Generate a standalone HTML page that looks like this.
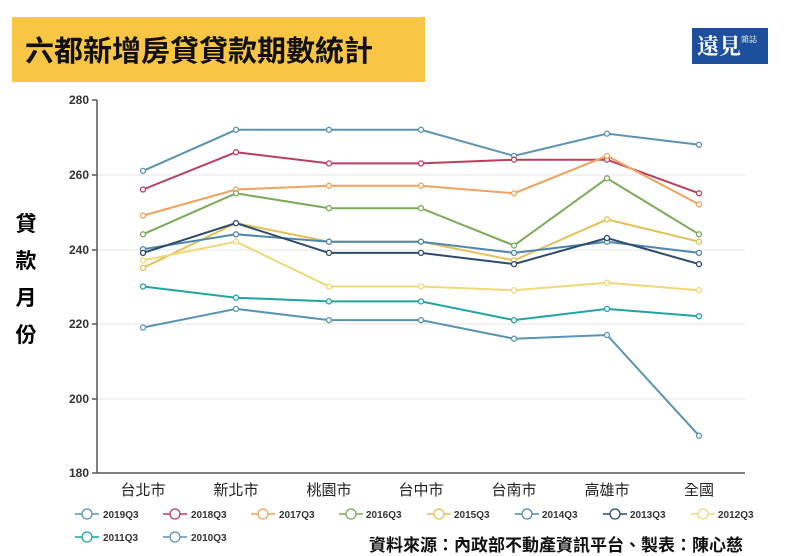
<!DOCTYPE html>
<html><head><meta charset="utf-8"><style>
body{margin:0;width:792px;height:555px;background:#fff;overflow:hidden;position:relative;font-family:"Liberation Sans","Noto Sans CJK TC",sans-serif}
.title{position:absolute;left:12px;top:17px;width:413px;height:65px;background:#f8c545;font-size:29px;font-weight:bold;line-height:65px;text-indent:13px;color:#111;font-family:"Noto Sans CJK TC",sans-serif}
.logo{position:absolute;left:692px;top:28px;width:76px;height:36px;background:#1d4f9c;color:#fff;font-family:"Noto Serif CJK SC",serif;font-size:22px;line-height:36px;text-indent:5px;font-weight:bold}
.logo span{font-size:8px;font-weight:normal;vertical-align:top;line-height:24px}
.yl{position:absolute;left:14px;top:205px;width:24px;font-size:21px;font-weight:bold;line-height:37px;font-family:"Noto Sans CJK TC",sans-serif;text-align:center}
.src{position:absolute;left:369px;top:531px;font-size:17px;font-weight:bold;font-family:"Noto Sans CJK TC",sans-serif;color:#111}
</style></head><body>
<div class="title">六都新增房貸貸款期數統計</div>
<div class="logo">遠見<span>雜誌</span></div>
<div class="yl">貸<br>款<br>月<br>份</div>
<svg id="s" width="792" height="555" style="position:absolute;left:0;top:0">
<g stroke="#e4e4e4" stroke-width="1"><line x1="97" y1="175" x2="745" y2="175"/><line x1="97" y1="250" x2="745" y2="250"/><line x1="97" y1="324" x2="745" y2="324"/><line x1="97" y1="399" x2="745" y2="399"/></g>
<g stroke="#555" stroke-width="1.5"><line x1="97" y1="100" x2="97" y2="473"/><line x1="97" y1="473" x2="745" y2="473"/>
<line x1="92" y1="100" x2="97" y2="100"/><line x1="92" y1="175" x2="97" y2="175"/><line x1="92" y1="250" x2="97" y2="250"/><line x1="92" y1="324" x2="97" y2="324"/><line x1="92" y1="399" x2="97" y2="399"/><line x1="92" y1="473" x2="97" y2="473"/></g>
<g font-size="12" font-weight="bold" fill="#333" text-anchor="end"><text x="89" y="104">280</text><text x="89" y="179">260</text><text x="89" y="254">240</text><text x="89" y="328">220</text><text x="89" y="403">200</text><text x="89" y="477">180</text></g>
<g font-size="15" fill="#222" text-anchor="middle" font-family="Noto Sans CJK TC,sans-serif"><text x="143" y="495">台北市</text><text x="236" y="495">新北市</text><text x="329" y="495">桃園市</text><text x="421" y="495">台中市</text><text x="514" y="495">台南市</text><text x="607" y="495">高雄市</text><text x="699" y="495">全國</text></g>
<g font-size="10" font-weight="bold" fill="#333"><text x="103" y="518">2019Q3</text><text x="191" y="518">2018Q3</text><text x="279" y="518">2017Q3</text><text x="366" y="518">2016Q3</text><text x="454" y="518">2015Q3</text><text x="542" y="518">2014Q3</text><text x="630" y="518">2013Q3</text><text x="718" y="518">2012Q3</text><text x="103" y="541">2011Q3</text><text x="191" y="541">2010Q3</text></g>
<g id="g"></g>
</svg>
<div class="src">資料來源：內政部不動產資訊平台、製表：陳心慈</div>
<script>
var xs=[143,236,329,421,514,607,699];
var S=[["#5b93b3",[261,272,272,272,265,271,268]],["#b8405e",[256,266,263,263,264,264,255]],["#f0a25e",[249,256,257,257,255,265,252]],["#7aab58",[244,255,251,251,241,259,244]],["#e3c05a",[235,247,242,242,237,248,242]],["#4f86ad",[240,244,242,242,239,242,239]],["#2c4a6e",[239,247,239,239,236,243,236]],["#f0d878",[237,242,230,230,229,231,229]],["#22a3a3",[230,227,226,226,221,224,222]],["#5a94b4",[219,224,221,221,216,217,190]]];
var h="";
function Y(v){return 100+(280-v)*3.73}
S.forEach(function(s,i){var p=s[1].map(function(v,j){return xs[j]+","+Y(v).toFixed(1)}).join(" ");
h+='<polyline points="'+p+'" fill="none" stroke="'+s[0]+'" stroke-width="2"/>';
s[1].forEach(function(v,j){h+='<circle cx="'+xs[j]+'" cy="'+Y(v).toFixed(1)+'" r="2.5" fill="#fff" stroke="'+s[0]+'" stroke-width="1.3"/>'});
var lx=(i<8?75+i*88:75+(i-8)*88),ly=(i<8?514:537);
h+='<line x1="'+lx+'" y1="'+ly+'" x2="'+(lx+24)+'" y2="'+ly+'" stroke="'+s[0]+'" stroke-width="1.5"/><circle cx="'+(lx+12)+'" cy="'+ly+'" r="5" fill="#fff" stroke="'+s[0]+'" stroke-width="1.3"/>';});
document.getElementById("g").innerHTML=h;
</script>
</body></html>
